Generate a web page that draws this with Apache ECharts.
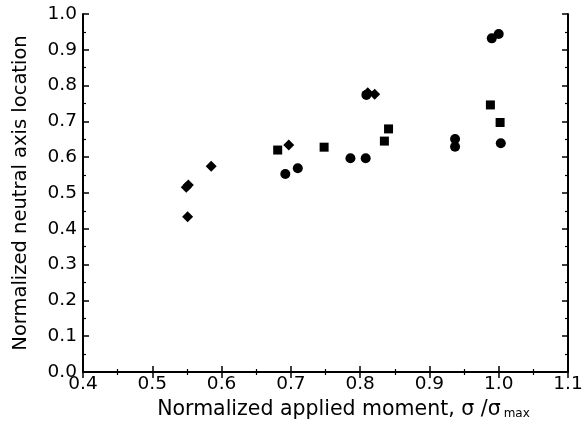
<!DOCTYPE html>
<html><head><meta charset="utf-8">
<script src="https://cdn.jsdelivr.net/npm/echarts@6/dist/echarts.min.js"></script>
<style>html,body{margin:0;padding:0;background:#fff}#c{width:586px;height:428px}</style>
</head><body><div id="c"></div>
<script>
// Data
const circlePts = [[0.692,0.553],[0.710,0.569],[0.786,0.597],[0.808,0.597],[0.809,0.774],[0.937,0.651],[0.937,0.629],[1.003,0.639],[0.990,0.932],[1.000,0.944]];
const diamondPts = [[0.549,0.516],[0.552,0.522],[0.585,0.575],[0.551,0.434],[0.697,0.634],[0.811,0.780],[0.821,0.776]];
const squarePts = [[0.681,0.620],[0.748,0.628],[0.835,0.645],[0.841,0.679],[0.988,0.746],[1.002,0.697]];
const xTicks = [0.4,0.5,0.6,0.7,0.8,0.9,1.0,1.1];
const yTicks = [0.0,0.1,0.2,0.3,0.4,0.5,0.6,0.7,0.8,0.9,1.0];

const font = 'DejaVu Sans, sans-serif';
const chart = echarts.init(document.getElementById('c'));
const axLine = {show:true, lineStyle:{color:'#000', width:2}};
const tick = {show:true, inside:true, length:6, lineStyle:{color:'#000', width:1.5}};
const minor = {show:true, splitNumber:2, length:3, lineStyle:{color:'#000', width:1.2}};
const mk = {color:'#000', opacity:1};
chart.setOption({
  animation:false,
  grid:{left:83, right:18, top:14, bottom:56},
  xAxis:[{
    type:'value', min:xTicks[0], max:xTicks[xTicks.length-1], interval:0.1,
    axisLine:axLine, axisTick:tick, minorTick:minor, splitLine:{show:false},
    axisLabel:{color:'#000', fontSize:18.5, fontFamily:font, margin:3, formatter:v=>v.toFixed(1)},
    name:'{a|Normalized applied moment, σ /σ}{s|max}', nameLocation:'middle', nameGap:27,
    nameTextStyle:{padding:[0,0,0,36], rich:{a:{fontSize:20.5, fontFamily:font, color:'#000'}, s:{fontSize:12, fontFamily:font, color:'#000', padding:[9,0,0,3]}}}
  },{
    type:'value', position:'top', min:xTicks[0], max:xTicks[xTicks.length-1], interval:0.1,
    axisLine:axLine, axisTick:tick, minorTick:minor, splitLine:{show:false}, axisLabel:{show:false}
  }],
  yAxis:[{
    type:'value', min:yTicks[0], max:yTicks[yTicks.length-1], interval:0.1,
    axisLine:axLine, axisTick:tick, minorTick:minor, splitLine:{show:false},
    axisLabel:{color:'#000', fontSize:18.5, fontFamily:font, margin:6, formatter:v=>v.toFixed(1)},
    name:'Normalized neutral axis location', nameLocation:'middle', nameGap:52,
    nameTextStyle:{fontSize:19.5, fontFamily:font, color:'#000'}
  },{
    type:'value', position:'right', min:yTicks[0], max:yTicks[yTicks.length-1], interval:0.1,
    axisLine:axLine, axisTick:tick, minorTick:minor, splitLine:{show:false}, axisLabel:{show:false}
  }],
  series:[
    {type:'scatter', data:circlePts, symbol:'circle', symbolSize:10, itemStyle:mk},
    {type:'scatter', data:diamondPts, symbol:'diamond', symbolSize:11, itemStyle:mk},
    {type:'scatter', data:squarePts, symbol:'rect', symbolSize:9, itemStyle:mk}
  ]
});
</script></body></html>
